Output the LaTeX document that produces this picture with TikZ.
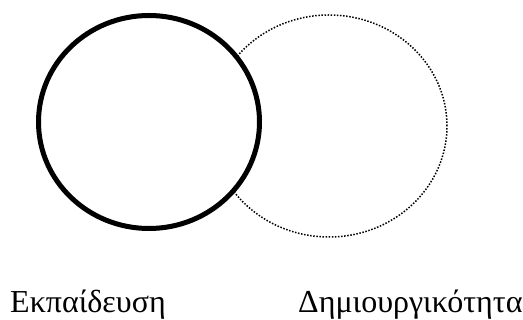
\documentclass[tikz,border=0pt]{standalone}
\usepackage{fontspec}
\setmainfont{Liberation Serif}
\usetikzlibrary{shapes.geometric}
\begin{document}
\begin{tikzpicture}[x=1pt,y=1pt,
  circ/.style={ellipse,inner sep=0pt},
  lbl/.style={inner sep=0pt,anchor=base west,font=\fontsize{32}{36}\selectfont}]
\useasboundingbox (0,0) rectangle (523,320);
\node[circ,draw,line width=1.5pt,dash pattern=on 1.5pt off 1.6pt,minimum width=236pt,minimum height=222pt] (creat) at (329,194) {};
\node[circ,draw,fill=white,line width=5pt,minimum width=221pt,minimum height=213pt] (edu) at (149,198) {};
\node[lbl] (edulbl) at (10,7) {Εκπαίδευση};
\node[lbl] (creatlbl) at (298,7) {Δημιουργικότητα};
\end{tikzpicture}
\end{document}
